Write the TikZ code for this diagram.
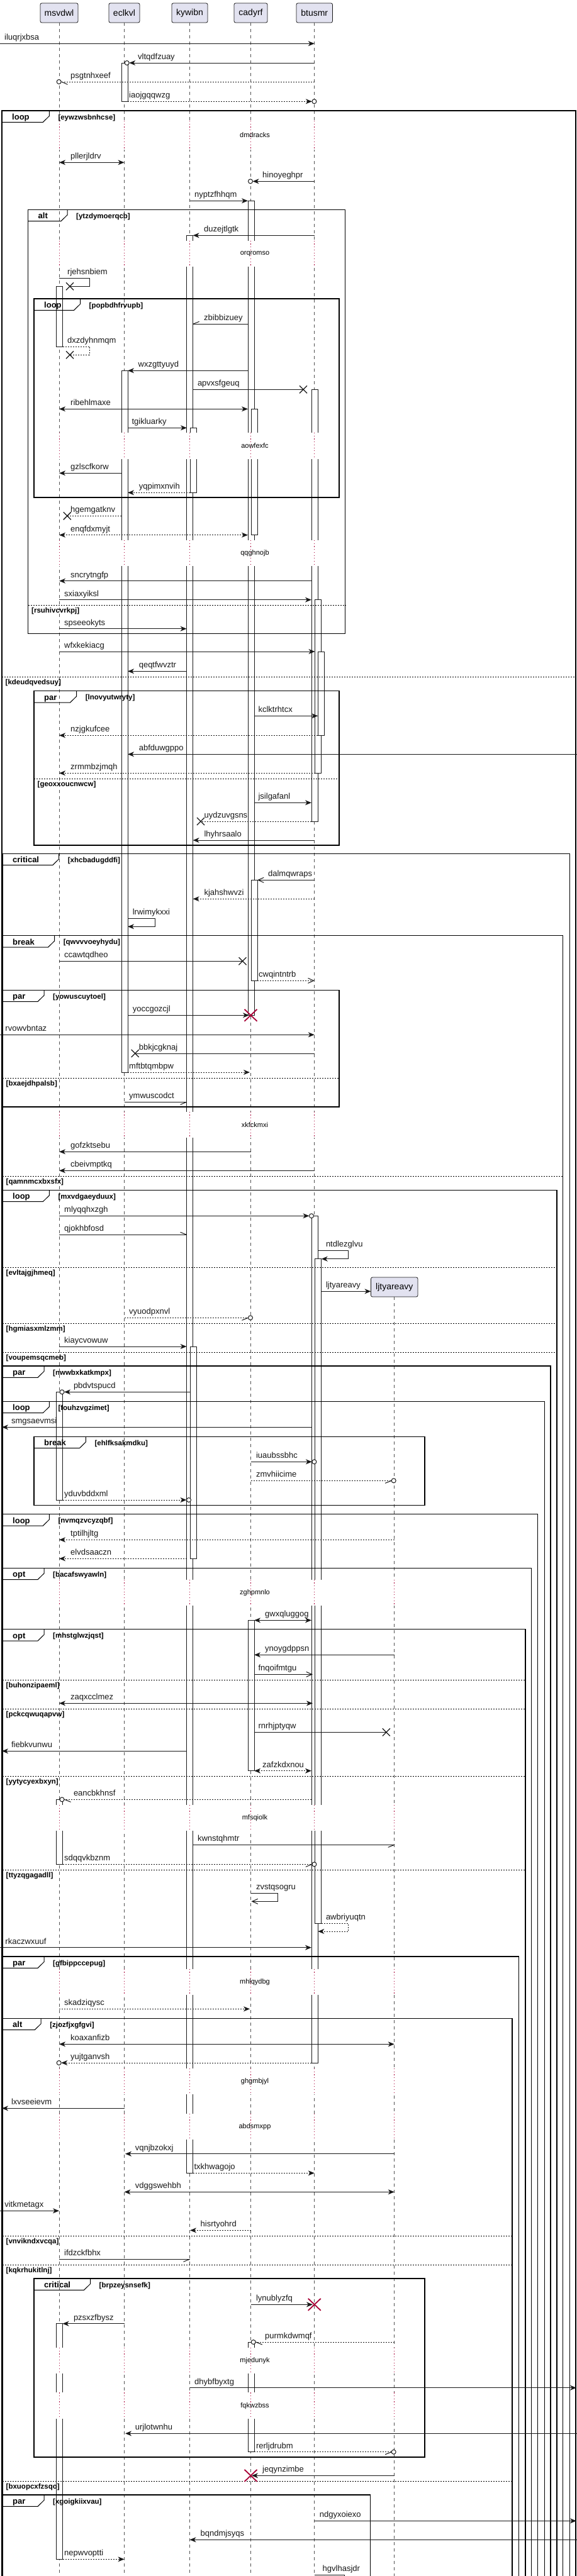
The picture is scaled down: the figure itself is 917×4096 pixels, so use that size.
\documentclass[tikz,border=0pt]{standalone}
\usepackage{fontspec}
\setmainfont{Liberation Sans}
\usetikzlibrary{arrows.meta}
\definecolor{lc}{HTML}{181818}
\definecolor{crim}{HTML}{A80036}
\definecolor{partfill}{HTML}{E2E2F0}
\definecolor{tabgray}{HTML}{EEEEEE}
\pgfdeclarelayer{bg}
\pgfsetlayers{bg,main}
\tikzset{
 part/.style={draw=lc, fill=partfill, rounded corners=2.5pt, line width=0.8pt, minimum height=31pt, inner sep=0pt, font=\fontsize{14}{16}\selectfont},
 life/.style={draw=lc!75, line width=0.7pt, dash pattern=on 5pt off 5pt},
 actbox/.style={draw=lc, fill=white, line width=0.9pt},
 mline/.style={draw=lc, line width=1pt},
 mdot/.style={dash pattern=on 2pt off 2pt},
 ahf/.style={->, >={Stealth[length=10pt,width=8pt,inset=3pt]}},
 ahb/.style={<->, >={Stealth[length=10pt,width=8pt,inset=3pt]}},
 aho/.style={->, >={Straight Barb[length=9pt,width=8pt]}},
 mlabel/.style={anchor=base west, inner sep=0pt, font=\fontsize{13}{15}\selectfont, text=lc},
 tabfill/.style={fill=tabgray},
 tabline/.style={draw=black, line width=1pt},
 frameline/.style={draw=black, line width=1.5pt},
 kwfont/.style={anchor=base west, inner sep=0pt, font=\bfseries\fontsize{13}{15}\selectfont},
 condfont/.style={anchor=base west, inner sep=0pt, font=\bfseries\fontsize{11.5}{13}\selectfont},
 delayline/.style={draw=crim, line width=0.9pt, dash pattern=on 1.2pt off 3.5pt},
 dtext/.style={inner sep=0pt, font=\fontsize{11}{13}\selectfont},
 redx/.style={draw=crim, line width=1.8pt},
 xmark/.style={draw=lc, line width=1.3pt},
}
% message: y, x1, x2, style, label x, text
\newcommand\SqM[6]{\draw[mline,#4] (#2,#1) -- (#3,#1); \node[mlabel] (n#6) at (#5,#1-5.5) {#6};}
% self message: y1, y2, x0, xr, xend, style, label x, text
\newcommand\SqSelf[8]{\draw[mline,#6] (#3,#1) -- (#4,#1) -- (#4,#2) -- (#5,#2); \node[mlabel] (n#8) at (#7,#1-5.5) {#8};}
\newcommand\SqCir[2]{\draw[mline,fill=white] (#1,#2) circle[radius=3.5];}
\newcommand\SqX[2]{\draw[xmark] (#1-6,#2-6) -- (#1+6,#2+6) (#1-6,#2+6) -- (#1+6,#2-6);}
\newcommand\SqRX[2]{\draw[redx] (#1-10,#2-9.5) -- (#1+10,#2+9.5) (#1-10,#2+9.5) -- (#1+10,#2-9.5);}
\newcommand\SqAct[3]{\draw[actbox] (#1-5,#2) rectangle (#1+5,#3);}
% delay: y1, y2, text, xmax, lifeline list
\newcommand\SqDly[5]{\fill[white] (84,#1) rectangle (#4,#2);
 \foreach \xx in {#5} \draw[delayline] (\xx,#1) -- (\xx,#2);
 \node[dtext] (d#3) at (405,{(#1+#2)/2}) {#3};}
% frame: top, bottom, left, right, tab right, keyword, condition
\newcommand\SqFrame[7]{%
 \begin{pgfonlayer}{bg}\fill[tabfill] (#3,#1) -- (#5,#1) -- (#5,#1+8.5) -- (#5-10,#1+18.3) -- (#3,#1+18.3) -- cycle;\end{pgfonlayer}
 \draw[tabline] (#3,#1+18.3) -- (#5-10,#1+18.3) -- (#5,#1+8.5) -- (#5,#1);
 \draw[frameline] (#3,#1) rectangle (#4,#2);
 \node[kwfont] (k#7) at (#3+16,#1+14.5) {#6};
 \node[condfont] (g#7) at (#5+14,#1+14) {[#7]};}
% separator: y, left, right, condition
\newcommand\SqSep[4]{\draw[black, line width=1pt, dash pattern=on 2pt off 2pt] (#2,#1) -- (#3,#1);
 \node[condfont] (s#4) at (#2+5.5,#1+12) {[#4]};}

\begin{document}
\begin{tikzpicture}[x=1pt,y=-1pt]
\useasboundingbox (0,0) rectangle (917,4096);
\clip (0,0) rectangle (917,4096);
\fill[white] (0,0) rectangle (917,4096);

% participants and lifelines
\node[part,minimum width=60pt] (msvdwl) at (94,20.5) {msvdwl};
\node[part,minimum width=49pt] (eclkvl) at (197.5,20.5) {eclkvl};
\node[part,minimum width=57pt] (kywibn) at (301.5,20.5) {kywibn};
\node[part,minimum width=53pt] (cadyrf) at (398.5,20.5) {cadyrf};
\node[part,minimum width=57.5pt] (btusmr) at (499.75,20.5) {btusmr};
\foreach \p in {msvdwl,eclkvl,kywibn,cadyrf,btusmr}
  \draw[life] (\p.south) -- (\p.south |- 0,4110);
\node[part,minimum width=74.5pt] (ljtyareavy) at (626.75,2046.5) {ljtyareavy};
\draw[life] (ljtyareavy.south) -- (ljtyareavy.south |- 0,4110);

% activations
\SqAct{94.5}{455.3}{551}
\SqAct{94.5}{2213.3}{2385}
\SqAct{94.5}{2861.3}{2964.3}
\SqAct{94.5}{3694.7}{4069.3}
\SqAct{198}{100}{161.3}
\SqAct{198}{589.3}{1705}
\SqAct{301.6}{374.3}{3455.3}
\SqAct{307}{680.3}{783.3}
\SqAct{307}{2141}{2478.3}
\SqAct{399}{319.3}{1614.3}
\SqAct{404}{650.3}{850.7}
\SqAct{404}{1399.3}{1559.3}
\SqAct{399}{2576.3}{2815.7}
\SqAct{399}{3724}{3898.7}
\SqAct{500}{619.3}{1306}
\SqAct{505.5}{953.7}{1229.3}
\SqAct{510.3}{1036}{1169.3}
\SqAct{500}{1933.3}{3280}
\SqAct{505.5}{2001.7}{3058.3}

% delays
\SqDly{192}{238}{dmdracks}{520}{94,197.5,301.5,398.5,499.75}
\SqDly{382.7}{424}{orqromso}{520}{94,197.5,301.5,398.5,499.75}
\SqDly{688}{730}{aowfexfc}{520}{94,197.5,301.5,398.5,499.75}
\SqDly{859}{900}{qqghnojb}{520}{94,197.5,301.5,398.5,499.75}
\SqDly{1767.7}{1809}{xkfckmxi}{520}{94,197.5,301.5,398.5,499.75}
\SqDly{2511.7}{2553.3}{zghpmnlo}{640}{94,197.5,301.5,398.5,499.75,626.75}
\SqDly{2870}{2911}{mfsqiolk}{640}{94,197.5,301.5,398.5,499.75,626.75}
\SqDly{3130.7}{3171.7}{mhlqydbg}{640}{94,197.5,301.5,398.5,499.75,626.75}
\SqDly{3289}{3330}{ghgmbjyl}{640}{94,197.5,301.5,398.5,499.75,626.75}
\SqDly{3361}{3402}{abdsmxpp}{640}{94,197.5,301.5,398.5,499.75,626.75}
\SqDly{3733}{3774.3}{mjedunyk}{640}{94,197.5,301.5,398.5,499.75,626.75}
\SqDly{3804.3}{3846}{fqkwzbss}{640}{94,197.5,301.5,398.5,499.75,626.75}

% frames
\SqFrame{176}{4110}{3}{915}{78.3}{loop}{eywzwsbnhcse}
\SqFrame{333.3}{1007.3}{44.5}{548.6}{107}{alt}{ytzdymoerqcb}
\SqFrame{475}{791}{54}{539}{127.5}{loop}{popbdhfrvupb}
\SqFrame{1098.7}{1344}{54}{539}{121.6}{par}{lnovyutwryty}
\SqFrame{1357.3}{4110}{4}{905.7}{93.7}{critical}{xhcbadugddfi}
\SqFrame{1487.7}{4110}{4}{894.4}{86.6}{break}{qwvvvoeyhydu}
\SqFrame{1574.3}{1760}{4}{539}{70}{par}{yowuscuytoel}
\SqFrame{1892.3}{4110}{4}{885}{78.3}{loop}{mxvdgaeyduux}
\SqFrame{2172}{4110}{4}{874.9}{70}{par}{nwwbxkatkmpx}
\SqFrame{2228.3}{4110}{4}{865.4}{78.3}{loop}{fouhzvgzimet}
\SqFrame{2284.3}{2393.3}{54}{675}{136.4}{break}{ehlfksakmdku}
\SqFrame{2407.7}{4110}{4}{854.7}{78.3}{loop}{nvmqzvcyzqbf}
\SqFrame{2493.3}{4110}{4}{844.6}{70}{opt}{bacafswyawln}
\SqFrame{2590.7}{4110}{4}{835}{70}{opt}{mhstglwzjqst}
\SqFrame{3111}{4110}{4}{824.4}{70}{par}{gfbippccepug}
\SqFrame{3209.3}{4110}{4}{813.8}{65.2}{alt}{zjozfjxgfgvi}
\SqFrame{3623}{3907}{54}{675}{143.5}{critical}{brpzeysnsefk}
\SqFrame{3967}{4110}{4}{588.4}{70}{par}{xgoigkiixvau}

\SqSep{1076.3}{3}{915}{kdeudqvedsuy}
\SqSep{962.3}{44.5}{548.6}{rsuhivcvrkpj}
\SqSep{1238.3}{54}{539}{geoxxoucnwcw}
\SqSep{1870.7}{4}{894.4}{qamnmcxbxsfx}
\SqSep{1714.3}{4}{539}{bxaejdhpalsb}
\SqSep{2015}{4}{885}{evltajgjhmeq}
\SqSep{2104}{4}{885}{hgmiasxmlzmm}
\SqSep{2150}{4}{885}{voupemsqcmeb}
\SqSep{2671.3}{4}{835}{buhonzipaeml}
\SqSep{2717.3}{4}{835}{pckcqwuqapvw}
\SqSep{2824.3}{4}{835}{yytycyexbxyn}
\SqSep{2973.3}{4}{835}{ttyzqgagadll}
\SqSep{3555.3}{4}{813.8}{vnvikndxvcqa}
\SqSep{3601.3}{4}{813.8}{kqkrhukitlnj}
\SqSep{3945}{4}{813.8}{bxuopcxfzsqo}

% messages
\SqM{69.3}{0}{499.75}{ahf}{7}{iluqrjxbsa}
\SqM{100}{499.75}{205.2}{ahf}{219}{vltqdfzuay} \SqCir{201.7}{100}
\SqM{130}{499.75}{97.2}{mdot}{112}{psgtnhxeef} \SqCir{93.7}{130} \draw[mline] (97.5,130) -- (107.5,134.3);
\SqM{161.3}{203}{495.9}{ahf,mdot}{205}{iaojgqqwzg} \SqCir{499.4}{161.3}
\SqM{258.3}{94}{197.5}{ahb}{112}{pllerjldrv}
\SqM{288.3}{499.75}{401.5}{ahf}{417}{hinoyeghpr} \SqCir{398}{288.3}
\SqM{319.3}{301.5}{394}{ahf}{309}{nyptzfhhqm}
\SqM{374.3}{499.75}{306.6}{ahf}{324}{duzejtlgtk}
\SqSelf{442.3}{455.3}{94}{142.3}{111}{}{107}{rjehsnbiem} \SqX{111}{455.3}
\SqM{515.3}{394}{306.6}{}{324}{zbibbizuey} \draw[mline] (306.6,515.3) -- (316.6,511.3);
\SqSelf{551}{564.3}{99.5}{142.3}{111}{mdot}{107}{dxzdyhnmqm} \SqX{111}{564.3}
\SqM{589.3}{394}{203}{ahf}{219.5}{wxzgttyuyd}
\SqM{619.3}{306.6}{482}{}{313.8}{apvxsfgeuq} \SqX{482}{619.3}
\SqM{650.3}{94}{394}{ahb}{112}{ribehlmaxe}
\SqM{680.3}{203}{297}{ahf}{209.4}{tgikluarky}
\SqM{752.3}{193}{94}{ahf}{112}{gzlscfkorw}
\SqM{783.3}{302}{203}{ahf,mdot}{220.6}{yqpimxnvih}
\SqM{820.3}{193}{106.8}{mdot}{112}{hgemgatknv} \SqX{106.8}{820.3}
\SqM{850.7}{94}{394}{ahb,mdot}{112}{enqfdxmyjt}
\SqM{923.7}{495}{94}{ahf}{112}{sncrytngfp}
\SqM{953.7}{94}{495}{ahf}{102}{sxiaxyiksl}
\SqM{999.7}{94}{296.6}{ahf}{102}{spseeokyts}
\SqM{1036}{94}{500.5}{ahf}{102}{wfxkekiacg}
\SqM{1067.3}{296.6}{203}{ahf}{220.6}{qeqtfwvztr}
\SqM{1138.3}{404}{505.3}{ahf}{410.4}{kclktrhtcx}
\SqM{1169.3}{505.3}{94}{ahf,mdot}{112}{nzjgkufcee}
\SqM{1199.3}{917}{203}{ahf}{220.6}{abfduwgppo}
\SqM{1229.3}{500.5}{94}{ahf,mdot}{112}{zrmmbzjmqh}
\SqM{1276.3}{404}{495}{ahf}{410.4}{jsilgafanl}
\SqM{1306}{495}{319}{mdot}{324.4}{uydzuvgsns} \SqX{319}{1306}
\SqM{1336}{499.75}{306.6}{ahf}{324.4}{lhyhrsaalo}
\SqM{1399.3}{499.75}{409}{aho}{425.9}{dalmqwraps}
\SqM{1429.3}{499.75}{306.6}{ahf,mdot}{324.4}{kjahshwvzi}
\SqSelf{1460}{1473.3}{203}{246}{203}{ahf}{210.6}{lrwimykxxi}
\SqM{1528.3}{94}{385.5}{}{102}{ccawtqdheo} \SqX{385.5}{1528.3}
\SqM{1559.3}{409}{499.75}{aho,mdot}{411}{cwqintntrb}
\SqM{1614.3}{203}{396}{ahf}{210.6}{yoccgozcjl} \SqRX{398.5}{1614.3}
\SqM{1645.3}{0}{499.75}{ahf}{8.3}{rvowvbntaz}
\SqM{1675}{499.75}{214.7}{}{220.6}{bbkjcgknaj} \SqX{214.7}{1675}
\SqM{1705}{203}{397}{ahf,mdot}{205}{mftbtqmbpw}
\SqM{1752.3}{197.5}{296.6}{}{205}{ymwuscodct} \draw[mline] (296.6,1752.3) -- (286.6,1756.3);
\SqM{1831.3}{398.5}{94}{ahf}{112}{gofzktsebu}
\SqM{1861.3}{499.75}{94}{ahf}{112}{cbeivmptkq}
\SqM{1933.3}{94}{491.5}{ahf}{102}{mlyqqhxzgh} \SqCir{495}{1933.3}
\SqM{1963.3}{94}{296.6}{}{102}{qjokhbfosd} \draw[mline] (296.6,1963.3) -- (286.6,1959.3);
\SqSelf{1988.3}{2001.7}{505.3}{553.4}{510.7}{ahf}{517.8}{ntdlezglvu}
\SqM{2053.3}{510.7}{589.5}{ahf}{517.8}{ljtyareavy}
\SqM{2095.3}{197.5}{394.5}{mdot}{205}{vyuodpxnvl} \SqCir{398}{2095.3} \draw[mline] (394.5,2095.3) -- (384.5,2099.3);
\SqM{2141}{94}{296.6}{ahf}{102}{kiaycvowuw}
\SqM{2213.3}{302}{102}{ahf}{116.8}{pbdvtspucd} \SqCir{98.5}{2213.3}
\SqM{2269.3}{495}{3}{ahf}{17.8}{smgsaevmsi}
\SqM{2324.3}{398.5}{495.9}{ahf}{406.9}{iuaubssbhc} \SqCir{499.4}{2324.3}
\SqM{2354.3}{398.5}{622.2}{mdot}{406.9}{zmvhiicime} \SqCir{625.7}{2354.3} \draw[mline] (622.2,2354.3) -- (612.2,2358.3);
\SqM{2385}{99.5}{296.5}{ahf,mdot}{102}{yduvbddxml} \SqCir{300}{2385}
\SqM{2448.3}{626.75}{94}{ahf,mdot}{112}{tptilhjltg}
\SqM{2478.3}{296.6}{94}{ahf,mdot}{112}{elvdsaaczn}
\SqM{2576.3}{404}{495}{ahb}{421}{gwxqluggog}
\SqM{2631.3}{626.75}{404}{ahf}{421}{ynoygdppsn}
\SqM{2662.3}{404}{497}{aho}{410.4}{fnqoifmtgu}
\SqM{2708.3}{94}{497}{ahb}{112}{zaqxcclmez}
\SqM{2754.3}{404}{613.9}{}{410.4}{rnrhjptyqw} \SqX{613.9}{2754.3}
\SqM{2784.3}{296.6}{3}{ahf}{17.8}{fiebkvunwu}
\SqM{2815.7}{404}{495}{ahb,mdot}{417}{zafzkdxnou}
\SqM{2861.3}{495}{102}{mdot}{116.8}{eancbkhnsf} \SqCir{98.5}{2861.3} \draw[mline] (102.5,2861.3) -- (112.5,2865.3);
\SqM{2933.3}{306.6}{626.75}{}{313.8}{kwnstqhmtr} \draw[mline] (626.75,2933.3) -- (616.75,2937.3);
\SqM{2964.3}{99.5}{495.9}{mdot}{102}{sdqqvkbznm} \SqCir{499.4}{2964.3} \draw[mline] (495.9,2964.3) -- (485.9,2968.3);
\SqSelf{3010.3}{3023.3}{398.5}{441.9}{399.5}{aho}{406.9}{zvstqsogru}
\SqSelf{3058.3}{3071}{510.7}{553.4}{505.3}{ahf,mdot}{517.8}{awbriyuqtn}
\SqM{3096.7}{0}{495}{ahf}{8.3}{rkaczwxuuf}
\SqM{3194.3}{94}{397}{ahf,mdot}{102}{skadziqysc}
\SqM{3250.3}{94}{626.75}{ahb}{112}{koaxanfizb}
\SqM{3280}{495}{97.2}{ahf,mdot}{112}{yujtganvsh} \SqCir{93.7}{3280}
\SqM{3352.3}{197.5}{3}{ahf}{17.8}{lxvseeievm}
\SqM{3424.7}{626.75}{199}{ahf}{214.7}{vqnjbzokxj}
\SqM{3455.3}{306.6}{499.75}{ahf,mdot}{308.4}{txkhwagojo}
\SqM{3485.3}{197.5}{626.75}{ahb}{214.7}{vdggswehbh}
\SqM{3515.3}{0}{94}{ahf}{7.1}{vitkmetagx}
\SqM{3546.3}{398.5}{302}{ahf,mdot}{318.5}{hisrtyohrd}
\SqM{3592.3}{94}{301.5}{}{102}{ifdzckfbhx} \draw[mline] (301.5,3592.3) -- (291.5,3596.3);
\SqM{3664.3}{398.5}{497}{ahf}{406.9}{lynublyzfq} \SqRX{499.75}{3664.3}
\SqM{3694.7}{197.5}{99.5}{ahf}{116.8}{pzsxzfbysz}
\SqM{3724}{626.75}{406.2}{mdot}{421}{purmkdwmqf} \SqCir{402.7}{3724} \draw[mline] (406.7,3724) -- (416.7,3728);
\SqM{3796.7}{301.5}{916}{ahf}{309}{dhybfbyxtg}
\SqM{3869.3}{917}{199}{ahf}{214.7}{urjlotwnhu}
\SqM{3898.7}{404}{622.2}{mdot}{406.9}{rerljdrubm} \SqCir{625.7}{3898.7} \draw[mline] (622.2,3898.7) -- (612.2,3902.7);
\SqM{3936.3}{626.75}{400}{ahf}{417}{jeqynzimbe} \SqRX{398.5}{3936.3}
\SqM{4008.3}{499.75}{916}{ahf}{507.7}{ndgyxoiexo}
\SqM{4038.3}{917}{301.5}{ahf}{318.5}{bqndmjsyqs}
\SqM{4069.3}{99.5}{197.5}{ahf,mdot}{102}{nepwvoptti}
\SqSelf{4094.3}{4112}{499.75}{547}{547}{}{512.5}{hgvlhasjdr}
\end{tikzpicture}
\end{document}
